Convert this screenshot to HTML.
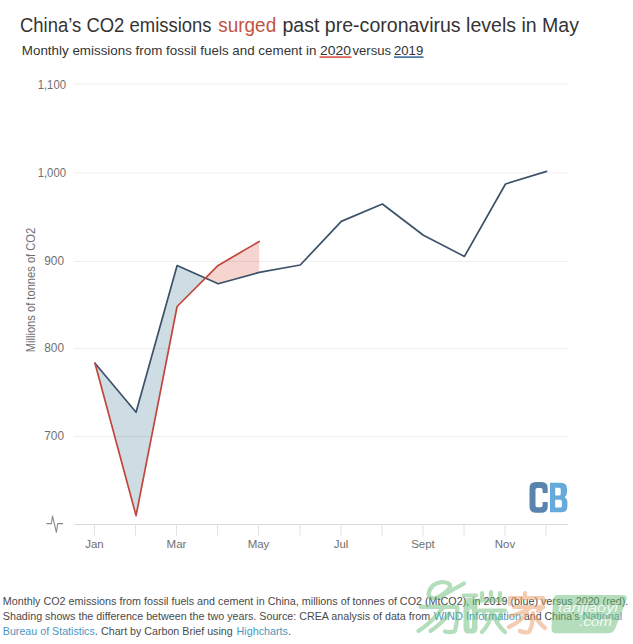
<!DOCTYPE html>
<html><head><meta charset="utf-8">
<style>
html,body{margin:0;padding:0;background:#fff;width:633px;height:644px;overflow:hidden}
svg{display:block}
text{font-family:"Liberation Sans",sans-serif}
</style></head>
<body>
<svg width="633" height="644" viewBox="0 0 633 644">
<rect x="0" y="0" width="633" height="644" fill="#fff"/>
<!-- title -->
<g font-size="20.5" fill="#343434">
<text x="20" y="32.2" textLength="191.6" lengthAdjust="spacingAndGlyphs">China’s CO2 emissions</text>
<text x="218.2" y="32.2" fill="#c0553f" textLength="58" lengthAdjust="spacingAndGlyphs">surged</text>
<text x="282.5" y="32.2" textLength="296.5" lengthAdjust="spacingAndGlyphs">past pre-coronavirus levels in May</text>
</g>
<g font-size="13.6" fill="#343434">
<text x="21.8" y="54.6" textLength="294.6" lengthAdjust="spacingAndGlyphs">Monthly emissions from fossil fuels and cement in</text>
<text x="320" y="54.6" textLength="31" lengthAdjust="spacingAndGlyphs">2020</text>
<text x="352.5" y="54.6" textLength="38.5" lengthAdjust="spacingAndGlyphs">versus</text>
<text x="394" y="54.6" textLength="29.2" lengthAdjust="spacingAndGlyphs">2019</text>
</g>
<rect x="319.5" y="56.3" width="32" height="1.6" fill="#d9534a"/>
<rect x="394" y="56.3" width="29.5" height="1.6" fill="#3f6d99"/>

<!-- fills -->
<polygon points="95.00,363.20 136.05,412.30 177.10,265.50 205.43,278.13 177.10,306.50 136.05,515.60" fill="#cedce4"/>
<polygon points="205.43,278.13 218.15,265.40 259.20,241.50 259.20,272.40 218.15,283.80" fill="#f6d5d1"/>
<!-- grid -->
<g stroke="#000" stroke-opacity="0.065" stroke-width="1">
<line x1="74" y1="84" x2="568" y2="84"/>
<line x1="74" y1="173" x2="568" y2="173"/>
<line x1="74" y1="261.5" x2="568" y2="261.5"/>
<line x1="74" y1="348.5" x2="568" y2="348.5"/>
<line x1="74" y1="436.5" x2="568" y2="436.5"/>
</g>
<g font-size="12" fill="#6f6f6f" text-anchor="end">
<text x="66" y="88.5" textLength="28.3" lengthAdjust="spacingAndGlyphs">1,100</text>
<text x="66" y="177" textLength="28.3" lengthAdjust="spacingAndGlyphs">1,000</text>
<text x="64" y="265" textLength="19.8" lengthAdjust="spacingAndGlyphs">900</text>
<text x="64" y="352" textLength="19.8" lengthAdjust="spacingAndGlyphs">800</text>
<text x="64" y="440" textLength="19.8" lengthAdjust="spacingAndGlyphs">700</text>
</g>
<text transform="translate(35,352.3) rotate(-90)" font-size="13" fill="#6f6f6f" textLength="124.5" lengthAdjust="spacingAndGlyphs">Millions of tonnes of CO2</text>
<line x1="74" y1="524.5" x2="568" y2="524.5" stroke="#dadade" stroke-width="1"/>
<g stroke="#e2e2e6" stroke-width="1">
<line x1="94.5" y1="524" x2="94.5" y2="535.5"/>
<line x1="135.5" y1="524" x2="135.5" y2="535.5"/>
<line x1="176.5" y1="524" x2="176.5" y2="535.5"/>
<line x1="217.5" y1="524" x2="217.5" y2="535.5"/>
<line x1="258.5" y1="524" x2="258.5" y2="535.5"/>
<line x1="300.0" y1="524" x2="300.0" y2="535.5"/>
<line x1="341.0" y1="524" x2="341.0" y2="535.5"/>
<line x1="382.0" y1="524" x2="382.0" y2="535.5"/>
<line x1="423.0" y1="524" x2="423.0" y2="535.5"/>
<line x1="464.0" y1="524" x2="464.0" y2="535.5"/>
<line x1="505.0" y1="524" x2="505.0" y2="535.5"/>
<line x1="546.0" y1="524" x2="546.0" y2="535.5"/>
</g>
<g font-size="11.5" fill="#6f6f6f" text-anchor="middle">
<text x="94.5" y="547.5">Jan</text>
<text x="176.5" y="547.5">Mar</text>
<text x="258.5" y="547.5">May</text>
<text x="341.0" y="547.5">Jul</text>
<text x="423.0" y="547.5">Sept</text>
<text x="505.0" y="547.5">Nov</text>
</g>
<polyline points="46.4,523.6 51.4,523.6 52.5,516 56.4,532.3 57.7,523.6 63.2,523.6" fill="none" stroke="#8a8a8a" stroke-width="1.1" stroke-linejoin="round"/>
<polyline points="95.00,363.20 136.05,412.30 177.10,265.50 218.15,283.80 259.20,272.40 300.25,265.00 341.30,221.40 382.35,204.00 423.40,235.20 464.45,256.40 505.50,184.00 546.55,171.40" fill="none" stroke="#3d5269" stroke-width="1.7" stroke-linejoin="round" stroke-linecap="round"/>
<polyline points="95.00,363.20 136.05,515.60 177.10,306.50 218.15,265.40 259.20,241.50" fill="none" stroke="#c2463b" stroke-width="1.7" stroke-linejoin="round" stroke-linecap="round"/>

<!-- CB logo -->
<path fill="#5a84ad" fill-rule="evenodd" d="M535.8,482 H541.4 Q547.7,482 547.7,488.3 V493 H542.6 V489.8 Q542.6,488 540.8,488 H537.3 Q535.5,488 535.5,489.8 V505.4 Q535.5,507.2 537.3,507.2 H540.8 Q542.6,507.2 542.6,505.4 V502 H547.7 V506.4 Q547.7,512.7 541.4,512.7 H535.8 Q529.5,512.7 529.5,506.4 V488.3 Q529.5,482 535.8,482 Z"/>
<path fill="#66aadb" fill-rule="evenodd" d="M550,482.7 H561 Q567,482.7 567,488.7 V492.5 Q567,495.8 564.6,497.3 Q567.4,498.8 567.4,502.3 V506.3 Q567.4,512.3 561.4,512.3 H550 Z M555.2,487.8 V495.4 H559.2 Q560.7,495.4 560.7,493.9 V489.3 Q560.7,487.8 559.2,487.8 Z M555.2,499.7 V507.6 H560.4 Q561.9,507.6 561.9,506.1 V501.2 Q561.9,499.7 560.4,499.7 Z"/>

<!-- caption -->
<g font-size="11.4" fill="#4a4a4a">
<text x="2.8" y="605" textLength="625.5" lengthAdjust="spacingAndGlyphs">Monthly CO2 emissions from fossil fuels and cement in China, millions of tonnes of CO2 (MtCO2), in 2019 (blue) versus 2020 (red).</text>
<text x="2.8" y="620" textLength="427.4" lengthAdjust="spacingAndGlyphs">Shading shows the difference between the two years. Source: CREA analysis of data from</text>
<text x="433.7" y="620" fill="#4d95bf" textLength="87.3" lengthAdjust="spacingAndGlyphs">WIND Information</text>
<text x="524" y="620" textLength="55.4" lengthAdjust="spacingAndGlyphs">and China’s</text>
<text x="582.4" y="620" fill="#4d95bf" textLength="39.9" lengthAdjust="spacingAndGlyphs">National</text>
<text x="2.8" y="635" fill="#4d95bf" textLength="92" lengthAdjust="spacingAndGlyphs">Bureau of Statistics</text>
<text x="94.8" y="635">.</text>
<text x="101" y="635" textLength="131.7" lengthAdjust="spacingAndGlyphs">Chart by Carbon Brief using</text>
<text x="236.5" y="635" fill="#4d95bf" textLength="51.5" lengthAdjust="spacingAndGlyphs">Highcharts</text>
<text x="288" y="635">.</text>
</g>
<!-- watermark -->
<g opacity="0.5">
<g fill="none" stroke="#6cbf7a" stroke-width="4.2" stroke-linecap="round" stroke-linejoin="round">
<path d="M464,583.5 Q452,590 441,596.5 Q430,601 428.5,594 Q430,584 441.5,582 Q451,582 450,587 Q447,593 436,598"/>
<path d="M420.5,606.8 H457"/>
<path d="M442,609 Q432,622 418.5,631"/>
<path d="M449.5,613.5 Q441,624 430.5,631"/>
<path d="M457,607.5 Q458,620 455,631 Q450,633 445,631.5"/>
<path d="M463.5,595.5 H476"/>
<path d="M482,593 V600.5 M491,592 V600.5 M500,593 V600.5 M479,600.5 H503"/>
<path d="M479,610.5 H505 M492,611 Q490,624 482,632 M493,614 Q497,625 505,632 M484,614 L486,619 M501,614 L499,619"/>
</g>
<path fill="#6cbf7a" fill-rule="evenodd" d="M469,598 H473 Q477.5,598 477.5,603 V628 Q477.5,633.5 472,633.5 H468 Q463.5,633.5 463.5,628 V603 Q463.5,598 469,598 Z M469.5,610 V627.5 Q469.5,628.5 470.5,628.5 Q472,628.5 472,627.5 V610 Q472,609 470.5,609 Q469.5,609 469.5,610 Z"/>
<g fill="none" stroke="#eb9a66" stroke-width="4.2" stroke-linecap="round" stroke-linejoin="round">
<path d="M525,593 V597 M510,604 V598 H543 V604"/>
<path d="M514,607 H540"/>
<path d="M531,607 Q524,613 510,616 M527,613 Q520,622 509,627 M533,613 Q533,625 529,632 Q524,633 520,631 M536,618 Q540,624 545,628 M538,611 L543,607"/>
</g>
<path fill="#6cbf7a" d="M558,595 H622 Q628,595 626.5,600 L615,629 Q613,633.2 608,633.2 H556 Q551.3,633.2 551.5,628 L553,600 Q553.5,595 558,595 Z"/>
</g>
<g fill="#fff" opacity="0.85" font-style="italic">
<text x="558" y="612.3" font-size="13.5" textLength="60" lengthAdjust="spacingAndGlyphs">tanjiaoyi</text>
<text x="579" y="625.5" font-size="13.5" textLength="33" lengthAdjust="spacingAndGlyphs">.com</text>
</g>
</svg>
</body></html>
